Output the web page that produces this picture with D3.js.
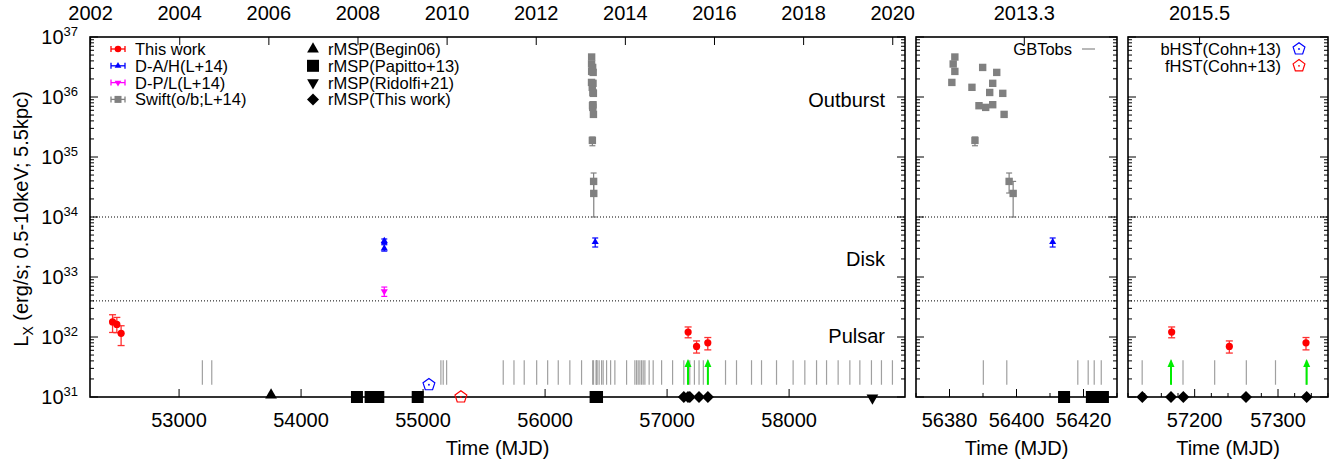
<!DOCTYPE html>
<html>
<head>
<meta charset="utf-8">
<script src="https://cdn.jsdelivr.net/npm/d3@7"></script>
<style>
  body { margin: 0; background: #fff; }
  svg { font-family: "Liberation Sans", Arial, Helvetica, sans-serif; }
</style>
</head>
<body>
<svg id="chart" width="1342" height="464"></svg>
<script>
// ---- X-ray luminosity measurements (MJD, L_X and 1-sigma bounds) ----
const thisWorkMjd = [52455, 52490, 52525, 57172.4, 57241.6, 57333.6];
const thisWorkLx  = [1.78e32, 1.62e32, 1.15e32, 1.21e32, 6.97e31, 8.0e31];
const thisWorkLo  = [1.19e32, 1.18e32, 7.2e31, 9.7e31, 5.4e31, 6.1e31];
const thisWorkHi  = [2.35e32, 2.12e32, 1.54e32, 1.47e32, 8.6e31, 9.8e31];

const diskAHMjd = [54682, 54682, 56410.8];
const diskAHLx  = [4.0e33, 3.0e33, 3.83e33];
const diskAHLo  = [3.6e33, 2.7e33, 3.16e33];
const diskAHHi  = [4.3e33, 3.45e33, 4.47e33];

const diskPLMjd = [54682];
const diskPLLx  = [5.75e32];
const diskPLLo  = [4.75e32];
const diskPLHi  = [6.8e32];

const swiftMjd = [56381.6, 56381.1, 56381.6, 56380.7, 56389.9, 56394.1, 56392.9, 56386.7, 56392.0,
                  56395.9, 56388.8, 56390.8, 56392.9, 56396.3, 56387.6, 56397.8, 56399.0];
const swiftLx  = [4.64e36, 3.55e36, 2.67e36, 1.75e36, 3.11e36, 2.57e36, 1.69e36, 1.45e36, 1.19e36,
                  1.15e36, 7.16e35, 6.71e35, 7.44e35, 5.13e35, 1.89e35, 3.92e34, 2.47e34];
const swiftLo  = [4.5e36, 3.45e36, 2.6e36, 1.7e36, 3.0e36, 2.5e36, 1.64e36, 1.41e36, 1.16e36,
                  1.12e36, 6.95e35, 6.5e35, 7.2e35, 4.95e35, 1.54e35, 2.51e34, 1.0e34];
const swiftHi  = [4.78e36, 3.65e36, 2.75e36, 1.8e36, 3.2e36, 2.65e36, 1.74e36, 1.49e36, 1.22e36,
                  1.18e36, 7.4e35, 6.9e35, 7.65e35, 5.3e35, 2.15e35, 5.41e34, 3.92e34];

// ---- Radio (GBT) observation epochs and pulsation detections ----
const gbtMjd = [53191, 53268, 55146, 55165, 55193, 55657, 55745, 55829, 55931, 56021, 56108, 56203,
                56299, 56390.1, 56397.1, 56418.3, 56421.4, 56423.2, 56425.3, 56443, 56463, 56476,
                56504, 56537, 56572, 56668, 56736, 56750, 56763, 56777, 56791, 56804, 56818, 56853,
                56886, 56955, 57045, 57137, 57172, 57186, 57224, 57262, 57297, 57334, 57479, 57569,
                57692, 57774, 57897, 58033, 58129, 58225, 58307, 58402, 58498, 58580, 58675, 58757, 58847];
const gbtSpan = [1.6e31, 4.1e31];
const detectionMjd = [57171.6, 57334.4];
const detectionSpan = [1.6e31, 4.3e31];

// ---- Radio MSP state epochs ----
const rmspBegin06Mjd   = [53754];
const rmspPapittoMjd   = [54458, 54570, 54633, 54956, 56414.2, 56422.5, 56425.8];
const rmspRidolfiMjd   = [58683];
const rmspThisWorkMjd  = [57137.2, 57171.6, 57186.4, 57261.6, 57334.4];
const rmspLevel = 1e31;

// ---- HST epochs ----
const bHstMjd = [55048]; const bHstLx = [1.6e31];
const fHstMjd = [55310]; const fHstLx = [1.0e31];

// ---- Axis ticks ----
const yTickExps = [31, 32, 33, 34, 35, 36, 37];
const leftMjdTicks  = [53000, 54000, 55000, 56000, 57000, 58000];
const midMjdTicks   = [56380, 56400, 56420];
const midMjdMinor   = [56370, 56390, 56410, 56430];
const rightMjdTicks = [57200, 57300];
const rightMjdMinor = [57120, 57140, 57160, 57180, 57220, 57240, 57260, 57280, 57320, 57340, 57360];
const leftYearTicks  = [2002, 2004, 2006, 2008, 2010, 2012, 2014, 2016, 2018, 2020];
const midYearTicks   = [2013.3];
const rightYearTicks = [2015.5];

// state boundaries
const diskLevel = 1e34;
const pulsarLevel = 4e32;

const yearToMjd = yr => 51544.5 + (yr - 2000) * 365.25;

const svg = d3.select("#chart");
const yTop = 37, yBot = 397;
const y = d3.scaleLog().domain([1e31, 1e37]).range([yBot, yTop]);

const panels = [
  { x0: 90,   x1: 905,  dom: [52270, 58950], major: leftMjdTicks,  minor: [], years: leftYearTicks },
  { x0: 916,  x1: 1117, dom: [56370, 56430], major: midMjdTicks,   minor: midMjdMinor, years: midYearTicks },
  { x0: 1128, x1: 1328, dom: [57120, 57360], major: rightMjdTicks, minor: rightMjdMinor, years: rightYearTicks }
];

const RED = "#ff0000", BLUE = "#0000ff", MAG = "#ff00ff", GRAY = "#808080", GREEN = "#00ee00";

function pentagonPath(r) {
  const pts = d3.range(5).map(i => {
    const a = -Math.PI / 2 + i * 2 * Math.PI / 5;
    return [r * Math.cos(a), r * Math.sin(a)];
  });
  return "M" + pts.map(p => p.join(",")).join("L") + "Z";
}

function errBars(g, xs, ys, los, his, x, color, cap, width) {
  xs.forEach((m, i) => {
    const cx = x(m);
    g.append("line").attr("x1", cx).attr("x2", cx).attr("y1", y(los[i])).attr("y2", y(his[i]))
      .attr("stroke", color).attr("stroke-width", width);
    [los[i], his[i]].forEach(v => {
      g.append("line").attr("x1", cx - cap / 2).attr("x2", cx + cap / 2).attr("y1", y(v)).attr("y2", y(v))
        .attr("stroke", color).attr("stroke-width", width);
    });
  });
}

panels.forEach((p, pi) => {
  const x = d3.scaleLinear().domain(p.dom).range([p.x0, p.x1]);
  const inDom = m => m >= p.dom[0] && m <= p.dom[1];
  const g = svg.append("g");
  const idx = arr => arr.map((m, i) => i).filter(i => inDom(arr[i]));
  const pick = (arr, ii) => ii.map(i => arr[i]);

  // state boundary lines
  [diskLevel, pulsarLevel].forEach(v => {
    g.append("line").attr("x1", p.x0).attr("x2", p.x1).attr("y1", y(v)).attr("y2", y(v))
      .attr("stroke", "#000").attr("stroke-width", 1).attr("stroke-dasharray", "1,2");
  });

  // GBT observations
  gbtMjd.filter(inDom).forEach(m => {
    g.append("line").attr("x1", x(m)).attr("x2", x(m))
      .attr("y1", y(gbtSpan[0])).attr("y2", y(gbtSpan[1]))
      .attr("stroke", "#a0a0a0").attr("stroke-width", 1.2);
  });

  // pulsation detections
  detectionMjd.filter(inDom).forEach(m => {
    const cx = x(m), tip = y(detectionSpan[1]);
    g.append("line").attr("x1", cx).attr("x2", cx).attr("y1", y(detectionSpan[0])).attr("y2", tip + 6)
      .attr("stroke", GREEN).attr("stroke-width", 2);
    g.append("path").attr("d", `M${cx},${tip}L${cx - 3.5},${tip + 8}L${cx + 3.5},${tip + 8}Z`)
      .attr("fill", GREEN);
  });

  // frame
  g.append("rect").attr("x", p.x0).attr("y", yTop).attr("width", p.x1 - p.x0).attr("height", yBot - yTop)
    .attr("fill", "none").attr("stroke", "#000").attr("stroke-width", 1.6);

  // y ticks (both sides)
  yTickExps.forEach(e => {
    const yy = y(Math.pow(10, e));
    [[p.x0, 1], [p.x1, -1]].forEach(([bx, dir]) => {
      g.append("line").attr("x1", bx).attr("x2", bx + dir * 8).attr("y1", yy).attr("y2", yy)
        .attr("stroke", "#000").attr("stroke-width", 1);
    });
    if (e < 37) {
      for (let k = 2; k <= 9; k++) {
        const ym = y(k * Math.pow(10, e));
        [[p.x0, 1], [p.x1, -1]].forEach(([bx, dir]) => {
          g.append("line").attr("x1", bx).attr("x2", bx + dir * 4).attr("y1", ym).attr("y2", ym)
            .attr("stroke", "#000").attr("stroke-width", 1);
        });
      }
    }
    if (pi === 0) {
      const t = g.append("text").attr("x", 78).attr("y", yy + 7).attr("text-anchor", "end")
        .attr("font-size", 20).attr("fill", "#000");
      t.append("tspan").text("10");
      t.append("tspan").attr("font-size", 13).attr("dy", -8).text(e);
    }
  });

  // bottom MJD ticks
  p.major.forEach(m => {
    g.append("line").attr("x1", x(m)).attr("x2", x(m)).attr("y1", yBot).attr("y2", yBot - 8)
      .attr("stroke", "#000").attr("stroke-width", 1);
    g.append("text").attr("x", x(m)).attr("y", 427).attr("text-anchor", "middle")
      .attr("font-size", 20).text(m);
  });
  p.minor.forEach(m => {
    g.append("line").attr("x1", x(m)).attr("x2", x(m)).attr("y1", yBot).attr("y2", yBot - 4)
      .attr("stroke", "#000").attr("stroke-width", 1);
  });
  // top calendar-year ticks
  p.years.forEach(yr => {
    const xx = x(yearToMjd(yr));
    g.append("line").attr("x1", xx).attr("x2", xx).attr("y1", yTop).attr("y2", yTop + 8)
      .attr("stroke", "#000").attr("stroke-width", 1);
    g.append("text").attr("x", xx).attr("y", 19.5).attr("text-anchor", "middle")
      .attr("font-size", 20).text(yr);
  });
  g.append("text").attr("x", (p.x0 + p.x1) / 2).attr("y", 455).attr("text-anchor", "middle")
    .attr("font-size", 20).text("Time (MJD)");

  // Swift outburst points
  let ii = idx(swiftMjd);
  errBars(g, pick(swiftMjd, ii), pick(swiftLx, ii), pick(swiftLo, ii), pick(swiftHi, ii), x, GRAY, 6, 1.2);
  ii.forEach(i => {
    g.append("rect").attr("x", x(swiftMjd[i]) - 3.7).attr("y", y(swiftLx[i]) - 3.7)
      .attr("width", 7.4).attr("height", 7.4).attr("fill", GRAY);
  });

  // disk-state points
  ii = idx(diskAHMjd);
  errBars(g, pick(diskAHMjd, ii), pick(diskAHLx, ii), pick(diskAHLo, ii), pick(diskAHHi, ii), x, BLUE, 6, 1.2);
  ii.forEach(i => {
    g.append("path").attr("transform", `translate(${x(diskAHMjd[i])},${y(diskAHLx[i])})`)
      .attr("d", d3.symbol(d3.symbolTriangle, 22)()).attr("fill", BLUE);
  });
  ii = idx(diskPLMjd);
  errBars(g, pick(diskPLMjd, ii), pick(diskPLLx, ii), pick(diskPLLo, ii), pick(diskPLHi, ii), x, MAG, 6, 1.2);
  ii.forEach(i => {
    g.append("path").attr("transform", `translate(${x(diskPLMjd[i])},${y(diskPLLx[i])}) rotate(180)`)
      .attr("d", d3.symbol(d3.symbolTriangle, 22)()).attr("fill", MAG);
  });

  // pulsar-state points (this work)
  ii = idx(thisWorkMjd);
  errBars(g, pick(thisWorkMjd, ii), pick(thisWorkLx, ii), pick(thisWorkLo, ii), pick(thisWorkHi, ii), x, "#ff3030", 7, 1.3);
  ii.forEach(i => {
    g.append("circle").attr("cx", x(thisWorkMjd[i])).attr("cy", y(thisWorkLx[i])).attr("r", 3.6).attr("fill", RED);
  });

  // HST epochs
  [[bHstMjd, bHstLx, BLUE], [fHstMjd, fHstLx, RED]].forEach(([ms, ls, c]) => {
    ms.forEach((m, i) => {
      if (!inDom(m)) return;
      const t = `translate(${x(m)},${y(ls[i])})`;
      g.append("path").attr("transform", t).attr("d", pentagonPath(6.2))
        .attr("fill", "none").attr("stroke", c).attr("stroke-width", 1.2);
      g.append("circle").attr("transform", t).attr("r", 0.9).attr("fill", c);
    });
  });

  // radio MSP epochs
  rmspBegin06Mjd.filter(inDom).forEach(m => {
    g.append("path").attr("transform", `translate(${x(m)},${y(rmspLevel) - 2})`)
      .attr("d", d3.symbol(d3.symbolTriangle, 60)()).attr("fill", "#000");
  });
  rmspPapittoMjd.filter(inDom).forEach(m => {
    g.append("rect").attr("x", x(m) - 6).attr("y", y(rmspLevel) - 6).attr("width", 12).attr("height", 12).attr("fill", "#000");
  });
  rmspRidolfiMjd.filter(inDom).forEach(m => {
    g.append("path").attr("transform", `translate(${x(m)},${y(rmspLevel) + 1}) rotate(180)`)
      .attr("d", d3.symbol(d3.symbolTriangle, 60)()).attr("fill", "#000");
  });
  rmspThisWorkMjd.filter(inDom).forEach(m => {
    const cx = x(m), cy = y(rmspLevel);
    g.append("path").attr("d", `M${cx},${cy - 6}L${cx + 6},${cy}L${cx},${cy + 6}L${cx - 6},${cy}Z`).attr("fill", "#000");
  });
});

// state labels
[["Outburst", 107], ["Disk", 266], ["Pulsar", 343]].forEach(([t, yy]) => {
  svg.append("text").attr("x", 885).attr("y", yy).attr("text-anchor", "end").attr("font-size", 20).text(t);
});

// y-axis title
const yt = svg.append("text").attr("transform", "translate(28,219) rotate(-90)")
  .attr("text-anchor", "middle").attr("font-size", 20);
yt.append("tspan").text("L");
yt.append("tspan").attr("font-size", 14).attr("dy", 5).text("X");
yt.append("tspan").attr("dy", -5).text(" (erg/s; 0.5-10keV; 5.5kpc)");

// ---- legends ----
const lg = svg.append("g").attr("font-size", 16.5);
const rowY = i => 49 + 16.8 * i;
const errKey = (cx, cy, color) => {
  lg.append("line").attr("x1", cx - 7).attr("x2", cx + 7).attr("y1", cy).attr("y2", cy).attr("stroke", color).attr("stroke-width", 1.3);
  [cx - 7, cx + 7].forEach(xx => lg.append("line").attr("x1", xx).attr("x2", xx).attr("y1", cy - 3).attr("y2", cy + 3).attr("stroke", color).attr("stroke-width", 1.3));
};
const leftKeys = ["This work", "D-A/H(L+14)", "D-P/L(L+14)", "Swift(o/b;L+14)"];
const leftCols = [RED, BLUE, MAG, GRAY];
leftKeys.forEach((t, i) => {
  const cy = rowY(i), cx = 118;
  errKey(cx, cy, leftCols[i]);
  if (i === 0) lg.append("circle").attr("cx", cx).attr("cy", cy).attr("r", 3.3).attr("fill", RED);
  if (i === 1) lg.append("path").attr("transform", `translate(${cx},${cy})`).attr("d", d3.symbol(d3.symbolTriangle, 20)()).attr("fill", BLUE);
  if (i === 2) lg.append("path").attr("transform", `translate(${cx},${cy}) rotate(180)`).attr("d", d3.symbol(d3.symbolTriangle, 20)()).attr("fill", MAG);
  if (i === 3) lg.append("rect").attr("x", cx - 3.5).attr("y", cy - 3.5).attr("width", 7).attr("height", 7).attr("fill", GRAY);
  lg.append("text").attr("x", 135).attr("y", cy + 6).text(t);
});
const rightKeys = ["rMSP(Begin06)", "rMSP(Papitto+13)", "rMSP(Ridolfi+21)", "rMSP(This work)"];
rightKeys.forEach((t, i) => {
  const cy = rowY(i), cx = 313;
  if (i === 0) lg.append("path").attr("transform", `translate(${cx},${cy})`).attr("d", d3.symbol(d3.symbolTriangle, 60)()).attr("fill", "#000");
  if (i === 1) lg.append("rect").attr("x", cx - 6).attr("y", cy - 6).attr("width", 12).attr("height", 12).attr("fill", "#000");
  if (i === 2) lg.append("path").attr("transform", `translate(${cx},${cy}) rotate(180)`).attr("d", d3.symbol(d3.symbolTriangle, 60)()).attr("fill", "#000");
  if (i === 3) lg.append("path").attr("d", `M${cx},${cy - 6}L${cx + 6},${cy}L${cx},${cy + 6}L${cx - 6},${cy}Z`).attr("fill", "#000");
  lg.append("text").attr("x", 328).attr("y", cy + 6).text(t);
});
// GBT key
lg.append("text").attr("x", 1072).attr("y", rowY(0) + 6).attr("text-anchor", "end").text("GBTobs");
lg.append("line").attr("x1", 1082).attr("x2", 1095).attr("y1", rowY(0)).attr("y2", rowY(0)).attr("stroke", "#a0a0a0").attr("stroke-width", 1.5);
// HST keys
[["bHST(Cohn+13)", BLUE], ["fHST(Cohn+13)", RED]].forEach(([t, c], i) => {
  const cy = rowY(i);
  lg.append("text").attr("x", 1281).attr("y", cy + 6).attr("text-anchor", "end").text(t);
  lg.append("path").attr("transform", `translate(1299,${cy})`).attr("d", pentagonPath(6.2)).attr("fill", "none").attr("stroke", c).attr("stroke-width", 1.2);
  lg.append("circle").attr("cx", 1299).attr("cy", cy).attr("r", 0.9).attr("fill", c);
});
</script>
</body>
</html>
